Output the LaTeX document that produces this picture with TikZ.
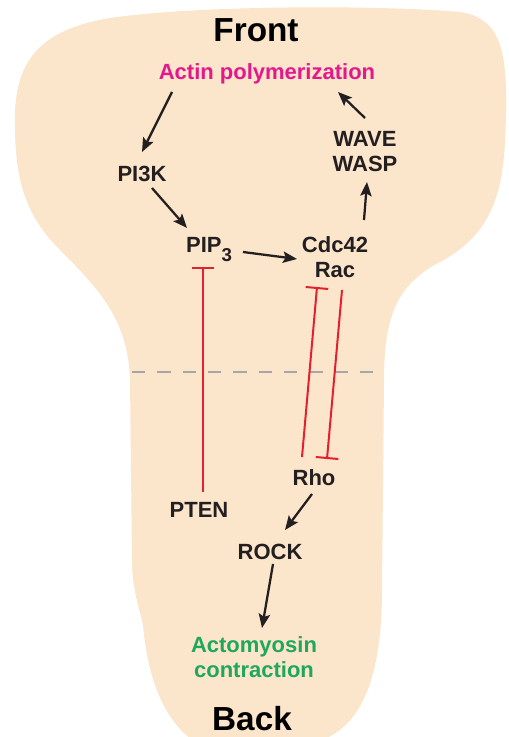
\documentclass[tikz,border=0pt]{standalone}
\usepackage{fontspec}
\setmainfont{Liberation Sans}
\usepackage{xcolor}
\usepackage{tikz}
\usetikzlibrary{arrows.meta,calc}
\definecolor{cellbeige}{HTML}{FBE5CB}
\definecolor{actinpink}{HTML}{E4188B}
\definecolor{myosingreen}{HTML}{1FA85A}
\definecolor{inhred}{HTML}{E5202E}
\definecolor{inkblack}{HTML}{231F20}

\begin{document}
\begin{tikzpicture}[
    x=0.75pt, y=-0.75pt,
    lbl/.style={font=\bfseries\fontsize{16.5}{18.8}\selectfont, text=inkblack,
                align=center, inner sep=2pt},
    side/.style={font=\bfseries\fontsize{25}{30}\selectfont, text=black, inner sep=2pt},
    arr/.style={-{Stealth[length=10.5pt, width=8.5pt, inset=2pt]}, line width=1.7pt, inkblack},
    inh/.style={-{Bar[width=17pt]}, line width=1.5pt, inhred},
]
    \useasboundingbox (0,0) rectangle (509,737);
    % cell outline
    \fill[cellbeige] (15,130) .. controls (12,60) and (40,30) .. (110,18)
        .. controls (200,5) and (380,5) .. (460,12)
        .. controls (500,18) and (507,50) .. (506,110)
        .. controls (505,180) and (500,230) .. (440,262)
        .. controls (395,285) and (384,320) .. (384,380)
        -- (382,590)
        .. controls (382,690) and (355,740) .. (300,745) -- (200,745)
        .. controls (165,725) and (148,680) .. (143,625)
        .. controls (140,610) and (132,590) .. (132,560)
        -- (130,380)
        .. controls (128,320) and (100,290) .. (60,250)
        .. controls (25,215) and (16,180) .. (15,130) -- cycle;
    \draw[gray!70, line width=1pt, dash pattern=on 10pt off 9pt] (132,372) -- (383,372);

    \node[side, anchor=base] (front) at (256,42) {Front};
    \node[side, anchor=base] (back) at (252,730) {Back};

    \node[lbl, anchor=base, text=actinpink] (actin) at (267,80) {Actin polymerization};
    \node[lbl, anchor=base] (pi3k) at (142,182) {PI3K};
    \node[lbl, anchor=base] (pip) at (209,253) {PIP\raisebox{-6.5pt}{\fontsize{14}{14}\selectfont 3}};
    \node[lbl] (cdc) at (335,257.5) {Cdc42\\Rac};
    \node[lbl] (wave) at (365,151.5) {WAVE\\WASP};
    \node[lbl, anchor=base] (rho) at (314,485) {Rho};
    \node[lbl, anchor=base] (pten) at (199,517) {PTEN};
    \node[lbl, anchor=base] (rock) at (270,559) {ROCK};
    \node[lbl, text=myosingreen] (acto) at (254,657.5) {Actomyosin\\contraction};

    \draw[arr] ($(actin.base)+(-95,12)$) -- ($(pi3k.base)+(0,-30)$);
    \draw[arr] ($(pi3k.base)+(10,6)$) -- ($(pip.base)+(-22,-25)$);
    \draw[arr] ($(pip.base)+(34,-1)$) -- ($(cdc.center)+(-38,1.5)$);
    \draw[arr] ($(cdc.center)+(29,-37.5)$) -- ($(wave.center)+(2,30.5)$);
    \draw[arr] ($(wave.center)+(0,-33.5)$) -- ($(actin.base)+(71,12)$);
    \draw[arr] ($(rho.base)+(-2,9)$) -- ($(rock.base)+(15,-29)$);
    \draw[arr] ($(rock.base)+(3,5)$) -- ($(acto.center)+(8,-29.5)$);

    \draw[inh] ($(pten.base)+(4,-25)$) -- ($(pip.base)+(-6,14)$);
    \draw[inh] ($(rho.base)+(-12,-28)$) -- ($(cdc.center)+(-18,29.5)$);
    \draw[inh] ($(cdc.center)+(7,32.5)$) -- ($(rho.base)+(13,-26)$);
\end{tikzpicture}
\end{document}
